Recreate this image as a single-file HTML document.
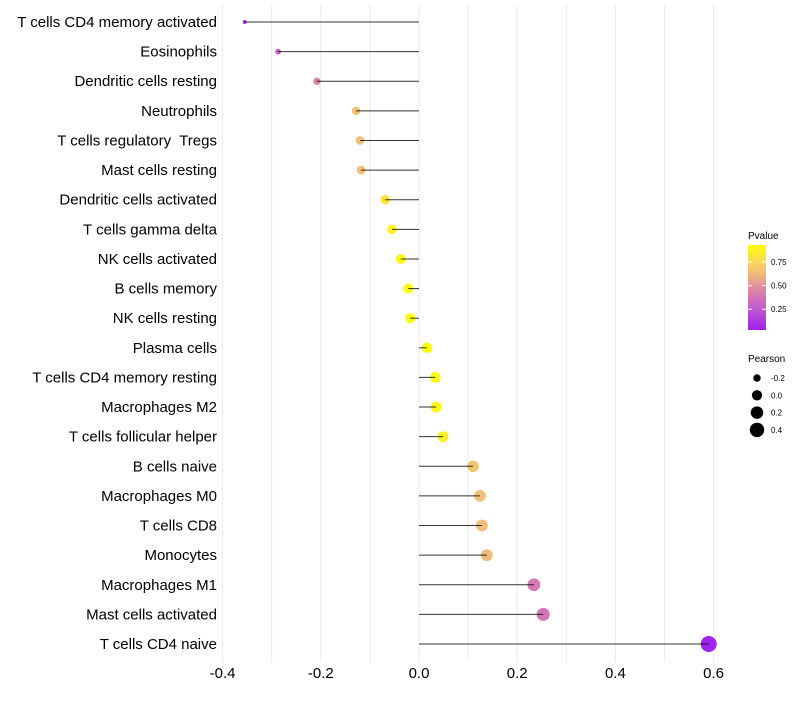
<!DOCTYPE html>
<html><head><meta charset="utf-8"><style>
body{margin:0;background:#fff;font-family:"Liberation Sans",sans-serif;}
svg text{font-family:"Liberation Sans",sans-serif;white-space:pre;}
</style></head><body>
<svg id="chart" width="800" height="700"></svg>
<script>
const categories=["T cells CD4 memory activated","Eosinophils","Dendritic cells resting","Neutrophils","T cells regulatory  Tregs","Mast cells resting","Dendritic cells activated","T cells gamma delta","NK cells activated","B cells memory","NK cells resting","Plasma cells","T cells CD4 memory resting","Macrophages M2","T cells follicular helper","B cells naive","Macrophages M0","T cells CD8","Monocytes","Macrophages M1","Mast cells activated","T cells CD4 naive"];
const pearson=[-0.355,-0.287,-0.208,-0.128,-0.12,-0.118,-0.069,-0.055,-0.037,-0.022,-0.018,0.016,0.033,0.035,0.049,0.11,0.124,0.128,0.138,0.234,0.253,0.59];
const pvalues=[0.1,0.28,0.45,0.64,0.65,0.65,0.8,0.86,0.9,0.92,0.92,0.95,0.9,0.88,0.86,0.67,0.65,0.64,0.62,0.4,0.37,0.04];
const xTicks=[-0.4,-0.2,0.0,0.2,0.4,0.6];
const xTickLabels=["-0.4","-0.2","0.0","0.2","0.4","0.6"];
const sizeLegend=[-0.2,0.0,0.2,0.4];
const colorTicks=[0.25,0.5,0.75];

const NS="http://www.w3.org/2000/svg";
const svg=document.getElementById('chart');
function el(t,a,p){const e=document.createElementNS(NS,t);for(const k in a)e.setAttribute(k,a[k]);(p||svg).appendChild(e);return e;}
const x=v=>419+v*491;
const y=i=>22+i*(622/(categories.length-1));
const r=v=>Math.sqrt(Math.max(1,26.5+63.5*v));
const stops=[[0,[160,32,240]],[0.3,[200,100,200]],[0.5,[225,140,160]],[0.65,[240,185,125]],[0.8,[248,215,90]],[1,[255,255,0]]];
function col(p){p=Math.max(0,Math.min(1,(p-0.03)/0.9));for(let i=1;i<stops.length;i++){if(p<=stops[i][0]){const a=stops[i-1],b=stops[i],t=(p-a[0])/(b[0]-a[0]);return 'rgb('+a[1].map((c,j)=>Math.round(c+(b[1][j]-c)*t)).join(',')+')';}}return 'rgb(255,255,0)';}

for(let g=-0.4;g<=0.601;g+=0.1){const l=el('line',{x1:x(g),x2:x(g),y1:5,y2:662,stroke:'#ebebeb','stroke-width':1});
}
xTicks.forEach((t,i)=>{const tx=el('text',{x:x(t),y:678,'text-anchor':'middle','font-size':15,fill:'#000'});tx.textContent=xTickLabels[i];
});
categories.forEach((c,i)=>{
 const tx=el('text',{x:217,y:y(i)+5,'text-anchor':'end','font-size':15,fill:'#000'});tx.textContent=c;
 
 const pt=el('circle',{cx:x(pearson[i]),cy:y(i),r:r(pearson[i]),fill:col(pvalues[i])});
 
 const ln=el('line',{x1:x(0),x2:x(pearson[i]),y1:y(i),y2:y(i),stroke:'#000','stroke-width':1,'stroke-opacity':0.8});
 
});
const lt=el('text',{x:748,y:239,'font-size':10,fill:'#000'});lt.textContent='Pvalue';

const defs=el('defs',{});const gr=el('linearGradient',{id:'cg',x1:0,y1:1,x2:0,y2:0},defs);
for(let k=0;k<=10;k++){el('stop',{offset:k/10,'stop-color':col(0.03+0.9*k/10)},gr);}
const cb=el('rect',{x:748,y:245,width:18,height:85,fill:'url(#cg)'});

const cy=v=>330-(v-0.03)/0.9*85;
colorTicks.forEach(t=>{el('line',{x1:748,x2:752,y1:cy(t),y2:cy(t),stroke:'#fff'});el('line',{x1:762,x2:766,y1:cy(t),y2:cy(t),stroke:'#fff'});
 const tt=el('text',{x:771,y:cy(t)+3,'font-size':8,fill:'#000'});tt.textContent=t.toFixed(2);
 });
const st=el('text',{x:748,y:362,'font-size':10,fill:'#000'});st.textContent='Pearson';

sizeLegend.forEach((v,i)=>{const yy=378+i*17.3;
 const c=el('circle',{cx:757,cy:yy,r:r(v),fill:'#000'});
 const tt=el('text',{x:771,y:yy+3,'font-size':8,fill:'#000'});tt.textContent=v.toFixed(1);
 });
</script>
</body></html>
